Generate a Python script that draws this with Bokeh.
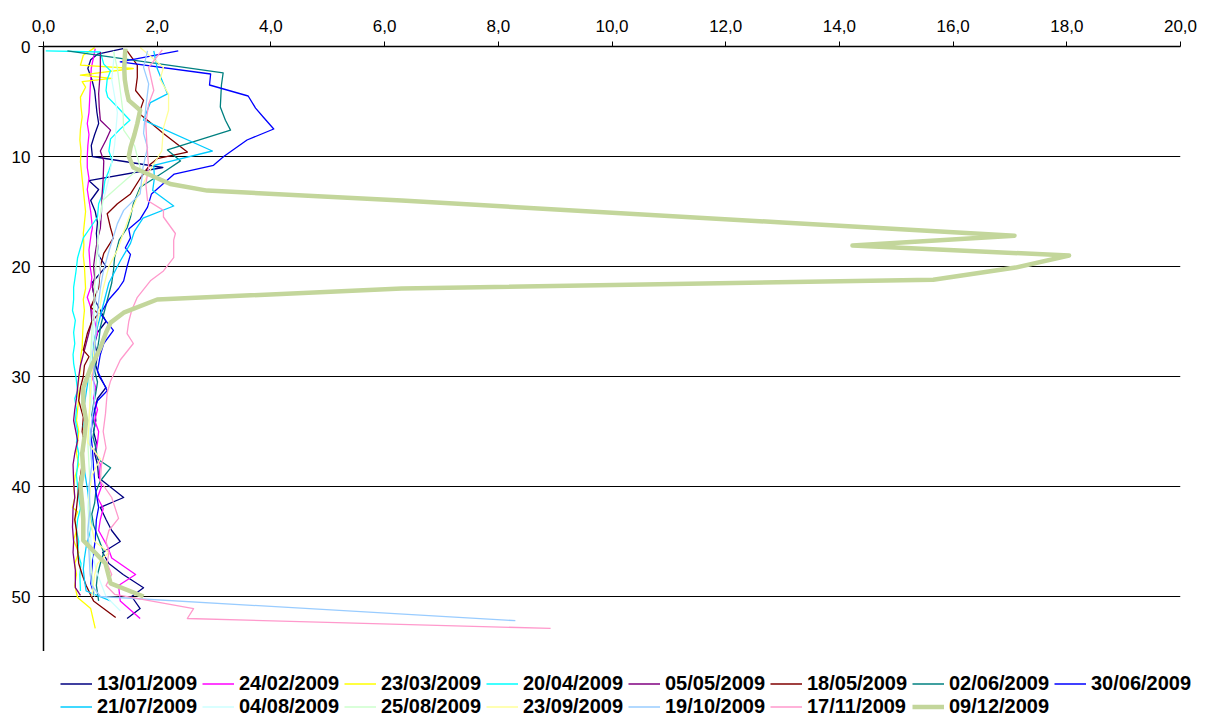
from bokeh.plotting import figure
from bokeh.layouts import column
from bokeh.models import Range1d, FixedTicker, Legend, LegendItem, ColumnDataSource
from bokeh.embed import file_html
from bokeh.resources import INLINE

LABELS = ["13/01/2009", "24/02/2009", "23/03/2009", "20/04/2009", "05/05/2009",
          "18/05/2009", "02/06/2009", "30/06/2009", "21/07/2009", "04/08/2009",
          "25/08/2009", "23/09/2009", "19/10/2009", "17/11/2009", "09/12/2009"]
COLORS = ["#000080", "#FF00FF", "#FFFF00", "#00FFFF", "#800080",
          "#800000", "#008080", "#0000FF", "#00CCFF", "#CCFFFF",
          "#CCFFCC", "#FFFF99", "#99CCFF", "#FF99CC", "#C3D69B"]
X_TICKS = [0, 2, 4, 6, 8, 10, 12, 14, 16, 18, 20]
X_TICK_LABELS = ["0,0", "2,0", "4,0", "6,0", "8,0", "10,0", "12,0", "14,0", "16,0", "18,0", "20,0"]
Y_TICKS = [0, 10, 20, 30, 40, 50]
Y_GRID = [10, 20, 30, 40, 50]

# 13/01/2009
depth_1 = [0.2, 0.7, 1.2, 2, 3, 4, 5, 6, 7, 8, 9, 10, 11, 12.2, 13, 14, 15, 16, 17, 18, 19, 20, 21.5,
           23, 24, 25, 26, 27, 28, 29, 30, 31, 32, 33, 34, 35, 36, 37, 38, 39.2, 41, 41.9, 43, 44, 45,
           46, 47, 48, 49.2, 50, 51.1, 52]
value_1 = [1.4, 0.95, 0.83, 0.78, 0.85, 0.9, 0.92, 0.94, 0.97, 0.9, 0.84, 0.86, 2.1, 0.8, 0.97, 0.83,
           0.91, 0.95, 0.93, 0.95, 0.97, 1.1, 0.85, 0.9, 1.0, 1.1, 0.95, 0.9, 0.95, 0.92, 0.98, 1.1,
           0.95, 0.9, 0.92, 0.88, 0.93, 0.9, 0.95, 0.97, 1.41, 1.0, 1.1, 1.2, 1.35, 1.04, 1.15, 1.4,
           1.76, 1.55, 1.7, 1.47]
# 24/02/2009
depth_2 = [0.2, 2, 3, 4, 5, 6, 7, 8, 9, 10, 11, 12, 13, 14, 15, 16.5, 17, 18.5, 20, 21, 21.9, 22.8,
           24, 25, 26, 27, 28, 29, 30, 31, 32, 33, 34, 35, 36, 37, 38, 39, 40, 41, 42, 43, 44, 45.5,
           46.5, 48, 49, 50.4, 52]
value_2 = [0.91, 0.84, 0.83, 0.82, 0.81, 0.8, 0.77, 0.8, 0.78, 0.77, 0.77, 0.8, 0.77, 0.8, 0.83, 0.86,
           0.84, 0.8, 0.82, 0.85, 0.83, 0.77, 0.85, 0.9, 0.95, 0.88, 0.85, 0.9, 0.85, 0.92, 0.88, 0.95,
           0.9, 0.97, 0.95, 0.92, 1.0, 0.98, 1.02, 0.95, 1.05, 1.0, 0.97, 1.13, 1.2, 1.62, 1.32, 1.35, 1.7]
# 23/03/2009
depth_3 = [0.1, 0.8, 1.7, 2.0, 2.6, 2.9, 3.2, 3.7, 4.6, 5.5, 6.4, 7.5, 8.5, 9.5, 10.5, 12, 13, 14, 15,
           16, 17, 18, 19, 20, 21, 22, 23, 24, 25, 26, 27.4, 28, 29.2, 30, 31, 32, 33, 34, 35, 36, 37,
           38, 39, 40, 41, 41.9, 42.3, 43, 44, 44.9, 46, 47, 48, 49, 50.1, 51.1, 52.9]
value_3 = [0.9, 0.7, 0.65, 1.58, 0.65, 1.2, 0.68, 0.74, 0.65, 0.66, 0.68, 0.65, 0.64, 0.66, 0.65, 0.68,
           0.7, 0.72, 0.74, 0.72, 0.7, 0.71, 0.7, 0.72, 0.73, 0.74, 0.7, 0.72, 0.7, 0.69, 0.68, 0.66,
           0.65, 0.63, 0.6, 0.62, 0.6, 0.58, 0.62, 0.6, 0.58, 0.62, 0.56, 0.53, 0.55, 0.51, 0.6, 0.55,
           0.58, 0.53, 0.62, 0.55, 0.58, 0.55, 0.6, 0.83, 0.91]
# 20/04/2009
depth_4 = [0.4, 0.5, 1.6, 2.2, 3, 4, 4.6, 5.5, 6.7, 7.5, 8.4, 9.5, 10.4, 11.3, 12.2, 13.3, 14.3, 15.5,
           16.5, 17.4, 18.3, 19.2, 20.5, 21.9, 23, 24, 24.9, 26, 27, 28, 28.8, 30, 31.3, 32, 33, 34, 35,
           36, 37, 38, 39, 40, 41, 42, 43, 44, 45, 46, 47, 48, 49.5]
value_4 = [0.04, 1.0, 1.06, 1.18, 1.12, 1.1, 1.13, 1.3, 1.52, 1.35, 1.18, 1.15, 1.21, 1.15, 1.08, 1.05,
           0.97, 0.95, 0.82, 0.7, 0.65, 0.6, 0.57, 0.53, 0.53, 0.51, 0.56, 0.53, 0.55, 0.52, 0.53, 0.57,
           0.6, 0.55, 0.58, 0.56, 0.6, 0.58, 0.62, 0.6, 0.58, 0.6, 0.62, 0.65, 0.6, 0.58, 0.62, 0.6,
           0.66, 0.64, 0.65]
# 05/05/2009
depth_5 = [0.5, 2.2, 4.3, 5.5, 6.7, 7.6, 8.5, 9.5, 10.4, 12, 13.5, 15, 16.5, 17.5, 18.8, 20, 21, 21.9,
           23.1, 23.7, 25, 26, 27, 28, 29, 30, 31, 32, 33, 34, 35.8, 37, 38, 39.5, 41, 42, 43.7, 45, 46,
           47.6, 49.2, 49.9]
value_5 = [1.0, 1.0, 0.97, 0.98, 1.0, 1.18, 1.1, 1.0, 1.06, 1.05, 1.03, 1.02, 1.0, 0.95, 0.91, 0.88,
           0.9, 0.86, 0.91, 0.83, 0.85, 0.8, 0.75, 0.7, 0.65, 0.62, 0.6, 0.58, 0.55, 0.53, 0.6, 0.55,
           0.52, 0.53, 0.55, 0.52, 0.51, 0.53, 0.52, 0.56, 0.56, 0.65]
# 18/05/2009
depth_6 = [0.4, 1.7, 2.8, 4, 4.9, 6.1, 6.7, 7.9, 9.6, 10.2, 10.7, 12, 13.4, 14.3, 15.2, 16.5, 17.4, 18.8,
           20, 21.9, 23.1, 23.7, 24.3, 25, 26.1, 27.6, 28.2, 29, 30, 31, 32.2, 33.7, 35, 36, 37, 38, 39,
           40, 41, 42, 43, 44, 45.8, 47, 48, 49, 50.4, 51.9]
value_6 = [1.47, 1.65, 1.65, 1.62, 1.76, 1.68, 1.83, 2.11, 2.53, 2.0, 1.88, 1.7, 1.53, 1.3, 1.12, 1.18,
           1.23, 1.06, 1.0, 0.97, 0.88, 0.83, 0.97, 0.85, 0.77, 0.7, 0.8, 0.72, 0.7, 0.65, 0.62, 0.7,
           0.68, 0.72, 0.7, 0.68, 0.65, 0.62, 0.6, 0.58, 0.55, 0.58, 0.6, 0.62, 0.68, 0.75, 0.88, 1.27]
# 02/06/2009
depth_7 = [0.4, 2.4, 3.5, 4.5, 5.5, 6.7, 7.6, 9.4, 10.4, 11.3, 12.2, 12.8, 14.3, 15.5, 16.5, 17.6, 19.2,
           20.4, 21.5, 22.5, 23.5, 24.5, 25.5, 26.5, 27.5, 28.5, 29.5, 30.5, 31.5, 32.5, 33.5, 34.5,
           35.5, 36.5, 37.5, 38.3, 39.5, 40.5, 41.5, 42.5, 43.5, 44.5, 46, 47, 48, 49, 50.4]
value_7 = [0.42, 3.16, 3.13, 3.12, 3.11, 3.2, 3.29, 2.18, 2.41, 2.15, 1.88, 1.7, 1.58, 1.53, 1.47, 1.33,
           1.25, 1.23, 1.2, 1.15, 1.1, 1.05, 1.0, 0.98, 0.95, 0.92, 0.9, 0.95, 0.92, 0.88, 0.85, 0.9,
           0.87, 0.92, 0.95, 1.18, 1.0, 0.92, 0.9, 0.85, 0.88, 0.95, 1.06, 1.0, 0.95, 0.93, 0.97]
# 30/06/2009
depth_8 = [0.4, 1.4, 2.5, 3.5, 4.5, 5.6, 6.5, 7.5, 8.5, 10, 10.8, 11.6, 12.5, 13.4, 14.6, 15.7, 16.6,
           17.4, 18.3, 18.9, 20, 21.3, 22, 23, 24.3, 25.8, 27, 28, 29.5, 31.3, 32.2, 33.4, 35.2, 36.5,
           38.3, 40.1, 41.9, 43, 44.9, 46, 47, 48.8, 50]
value_8 = [2.37, 1.35, 2.94, 2.92, 3.6, 3.73, 3.88, 4.05, 3.58, 3.17, 2.99, 2.3, 2.1, 1.9, 1.83, 1.7,
           1.5, 1.53, 1.44, 1.53, 1.47, 1.41, 1.32, 1.15, 1.0, 1.23, 1.06, 1.0, 0.95, 1.12, 0.95, 0.88,
           0.83, 0.86, 0.88, 0.91, 0.97, 0.93, 0.91, 0.88, 0.86, 0.83, 0.9]
# 21/07/2009
depth_9 = [0.4, 2, 4.3, 5.1, 6.7, 9.5, 10.8, 12, 13.1, 14.5, 15.6, 16.8, 17.9, 19.5, 20.5, 21.5, 22.5,
           23.5, 24.5, 25.5, 26.5, 27.5, 28.5, 29.5, 30.5, 31.5, 32.5, 33.5, 34.5, 35.5, 36.5, 37.5,
           38.5, 39.5, 40.5, 41.5, 42.5, 43.5, 44.5, 45.5, 46.5, 47.5, 48.5, 49.5, 50.4]
value_9 = [1.94, 2.0, 2.18, 1.88, 1.76, 2.97, 1.94, 1.95, 1.92, 2.29, 1.75, 1.6, 1.53, 1.35, 1.25, 1.15,
           1.1, 1.05, 1.0, 0.95, 0.9, 0.88, 0.85, 0.8, 0.78, 0.75, 0.72, 0.75, 0.7, 0.72, 0.68, 0.7,
           0.72, 0.75, 0.78, 0.8, 0.82, 0.85, 0.8, 0.75, 0.72, 0.7, 0.72, 0.75, 1.18]
# 04/08/2009
depth_10 = [0.5, 3, 6, 9, 12, 14, 16, 18, 20, 22, 24, 26, 28, 30, 32, 34, 36, 38, 40, 42, 44, 46, 48,
            50, 51.3]
value_10 = [1.25, 1.2, 1.3, 1.25, 1.15, 1.05, 0.98, 0.95, 1.0, 0.95, 0.9, 0.88, 0.85, 0.82, 0.85, 0.8,
            0.82, 0.85, 0.8, 0.78, 0.82, 0.85, 0.95, 1.1, 1.35]
# 25/08/2009
depth_11 = [0.4, 2, 4, 6, 7.6, 9, 11, 12.8, 14, 16, 18, 20, 22, 24, 26, 28, 30, 32, 34, 36, 38, 40, 42,
            44, 46, 48, 50]
value_11 = [1.23, 1.3, 1.35, 1.4, 1.41, 1.6, 1.7, 1.3, 1.04, 0.98, 0.95, 0.92, 0.9, 0.88, 0.85, 0.83,
            0.8, 0.82, 0.8, 0.78, 0.8, 0.82, 0.8, 0.78, 0.82, 0.85, 0.9]
# 23/09/2009
depth_12 = [0.1, 1.9, 3, 4.3, 5.8, 7.4, 8.8, 9.5, 11, 13, 15.2, 17, 18.5, 20, 22, 24, 26, 28, 30, 32,
            34, 36, 37.5, 39, 41, 43, 45, 46, 47, 48, 50]
value_12 = [1.7, 2.11, 2.05, 2.2, 2.2, 2.11, 2.09, 2.08, 1.9, 1.7, 1.53, 1.4, 1.3, 1.15, 1.05, 0.98,
            0.92, 0.88, 0.85, 0.82, 0.8, 0.78, 1.0, 0.85, 0.8, 0.82, 0.9, 1.15, 0.95, 0.9, 0.85]
# 19/10/2009
depth_13 = [0.4, 1.9, 3.4, 5.5, 7.9, 9.2, 11, 13.4, 14.9, 16.1, 18.8, 20.5, 22, 24, 26, 28, 30, 32, 34,
            36, 38, 40, 42, 44, 46, 48, 49, 50, 52.2]
value_13 = [1.83, 1.76, 1.85, 1.8, 1.76, 1.83, 1.75, 1.7, 1.41, 1.3, 1.14, 1.05, 1.0, 0.95, 0.92, 0.9,
            0.88, 0.9, 0.85, 0.82, 0.85, 0.8, 0.82, 0.78, 0.8, 0.82, 0.85, 1.0, 8.3]
# 17/11/2009
depth_14 = [0.3, 1.9, 4, 5.2, 7, 9, 11, 12.5, 14, 14.9, 15.5, 17, 17.6, 19.2, 20.4, 21.3, 22.8, 24, 25,
            26.1, 27, 28.5, 30.4, 31.5, 33.4, 35, 36.5, 38, 39.5, 41, 42.9, 44, 45, 46, 47, 48, 49,
            49.8, 51.1, 52, 52.9]
value_14 = [2.09, 1.85, 1.94, 1.85, 1.8, 1.82, 1.85, 1.8, 1.83, 2.11, 2.11, 2.32, 2.29, 2.29, 2.11,
            1.88, 1.65, 1.55, 1.5, 1.47, 1.58, 1.35, 1.18, 1.12, 1.09, 1.05, 1.1, 1.02, 1.0, 1.2, 1.32,
            1.15, 1.1, 1.15, 1.12, 1.2, 1.1, 1.25, 2.64, 2.53, 8.92]
# 09/12/2009
depth_15 = [0.2, 1, 2, 3, 4, 4.9, 5.8, 7, 8, 9.2, 10, 11, 12.5, 13.1, 14.0, 16, 17.2, 18.1, 19, 20.1,
            21.2, 22, 23, 24.2, 25.1, 26, 27.4, 29.2, 31, 32.5, 34, 35.5, 37, 38.5, 40, 41.5, 43, 44.9,
            47, 48.8, 50]
value_15 = [1.44, 1.43, 1.42, 1.43, 1.46, 1.5, 1.7, 1.65, 1.6, 1.53, 1.5, 1.58, 2.23, 2.88, 6.3, 13.0,
            17.08, 14.23, 18.04, 17.1, 15.65, 6.3, 2.0, 1.41, 1.18, 1.1, 1.0, 0.83, 0.7, 0.7, 0.75, 0.72,
            0.68, 0.7, 0.65, 0.68, 0.7, 0.7, 1.09, 1.18, 1.76]

SERIES = [(depth_1, value_1), (depth_2, value_2), (depth_3, value_3), (depth_4, value_4),
          (depth_5, value_5), (depth_6, value_6), (depth_7, value_7), (depth_8, value_8),
          (depth_9, value_9), (depth_10, value_10), (depth_11, value_11), (depth_12, value_12),
          (depth_13, value_13), (depth_14, value_14), (depth_15, value_15)]

FONT = "Liberation Sans"
THIN, THICK = 1.3, 4.5

p = figure(width=1202, height=651, x_range=Range1d(0, 20), y_range=Range1d(55, 0),
           x_axis_location="above", output_backend="svg", toolbar_location=None,
           min_border_left=43, min_border_right=22, min_border_top=46, min_border_bottom=0)
p.outline_line_color = None
p.background_fill_color = "white"
p.border_fill_color = "white"
p.frame_align = False

for i, (d, v) in enumerate(SERIES):
    n = min(len(d), len(v))
    src = ColumnDataSource(dict(x=v[:n], y=d[:n]))
    lw = THICK if i == len(SERIES) - 1 else THIN
    p.line("x", "y", source=src, line_color=COLORS[i], line_width=lw, line_join="round")

xa = p.xaxis[0]
xa.ticker = FixedTicker(ticks=X_TICKS)
xa.major_label_overrides = {t: l for t, l in zip(X_TICKS, X_TICK_LABELS)}
ya = p.yaxis[0]
ya.ticker = FixedTicker(ticks=Y_TICKS)
for ax in (xa, ya):
    ax.major_tick_out = 5
    ax.major_tick_in = 0
    ax.minor_tick_out = 0
    ax.minor_tick_in = 0
    ax.axis_line_color = "black"
    ax.axis_line_width = 1.5
    ax.major_tick_line_color = "black"
    ax.major_label_text_font = FONT
    ax.major_label_text_font_size = "17px"
    ax.major_label_text_color = "black"
xa.major_label_standoff = 10
ya.major_label_standoff = 8

p.xgrid.visible = False
p.ygrid.ticker = FixedTicker(ticks=Y_GRID)
p.ygrid.grid_line_color = "black"
p.ygrid.grid_line_width = 1

# legend strip below the chart (legend samples only; their single NaN point draws nothing)
lg = figure(width=1202, height=67, x_range=Range1d(0, 1), y_range=Range1d(0, 1),
            output_backend="svg", toolbar_location=None, x_axis_location=None, y_axis_location=None,
            min_border_left=0, min_border_right=0, min_border_top=0, min_border_bottom=0)
lg.outline_line_color = None
lg.grid.visible = False
lg.border_fill_color = "white"
lg.background_fill_color = "white"
lg.frame_align = False
samples = []
for i in range(len(LABELS)):
    lw = THICK if i == len(LABELS) - 1 else THIN
    samples.append(lg.line(x=[float("nan")], y=[float("nan")], line_color=COLORS[i], line_width=lw))

for idx, vy in ((range(0, 8), 23.5), (range(8, 15), 0.5)):
    items = [LegendItem(label=LABELS[i], renderers=[samples[i]]) for i in idx]
    leg = Legend(items=items, location=(60, vy), orientation="horizontal",
                 margin=0, padding=0, spacing=0, glyph_width=32, glyph_height=23,
                 label_height=23, label_width=105, label_standoff=5,
                 label_text_font=FONT, label_text_font_size="20px", label_text_font_style="bold",
                 label_text_color="black", border_line_alpha=0, background_fill_alpha=0)
    lg.add_layout(leg)

open("out.html", "w").write(file_html(column(p, lg), INLINE))
